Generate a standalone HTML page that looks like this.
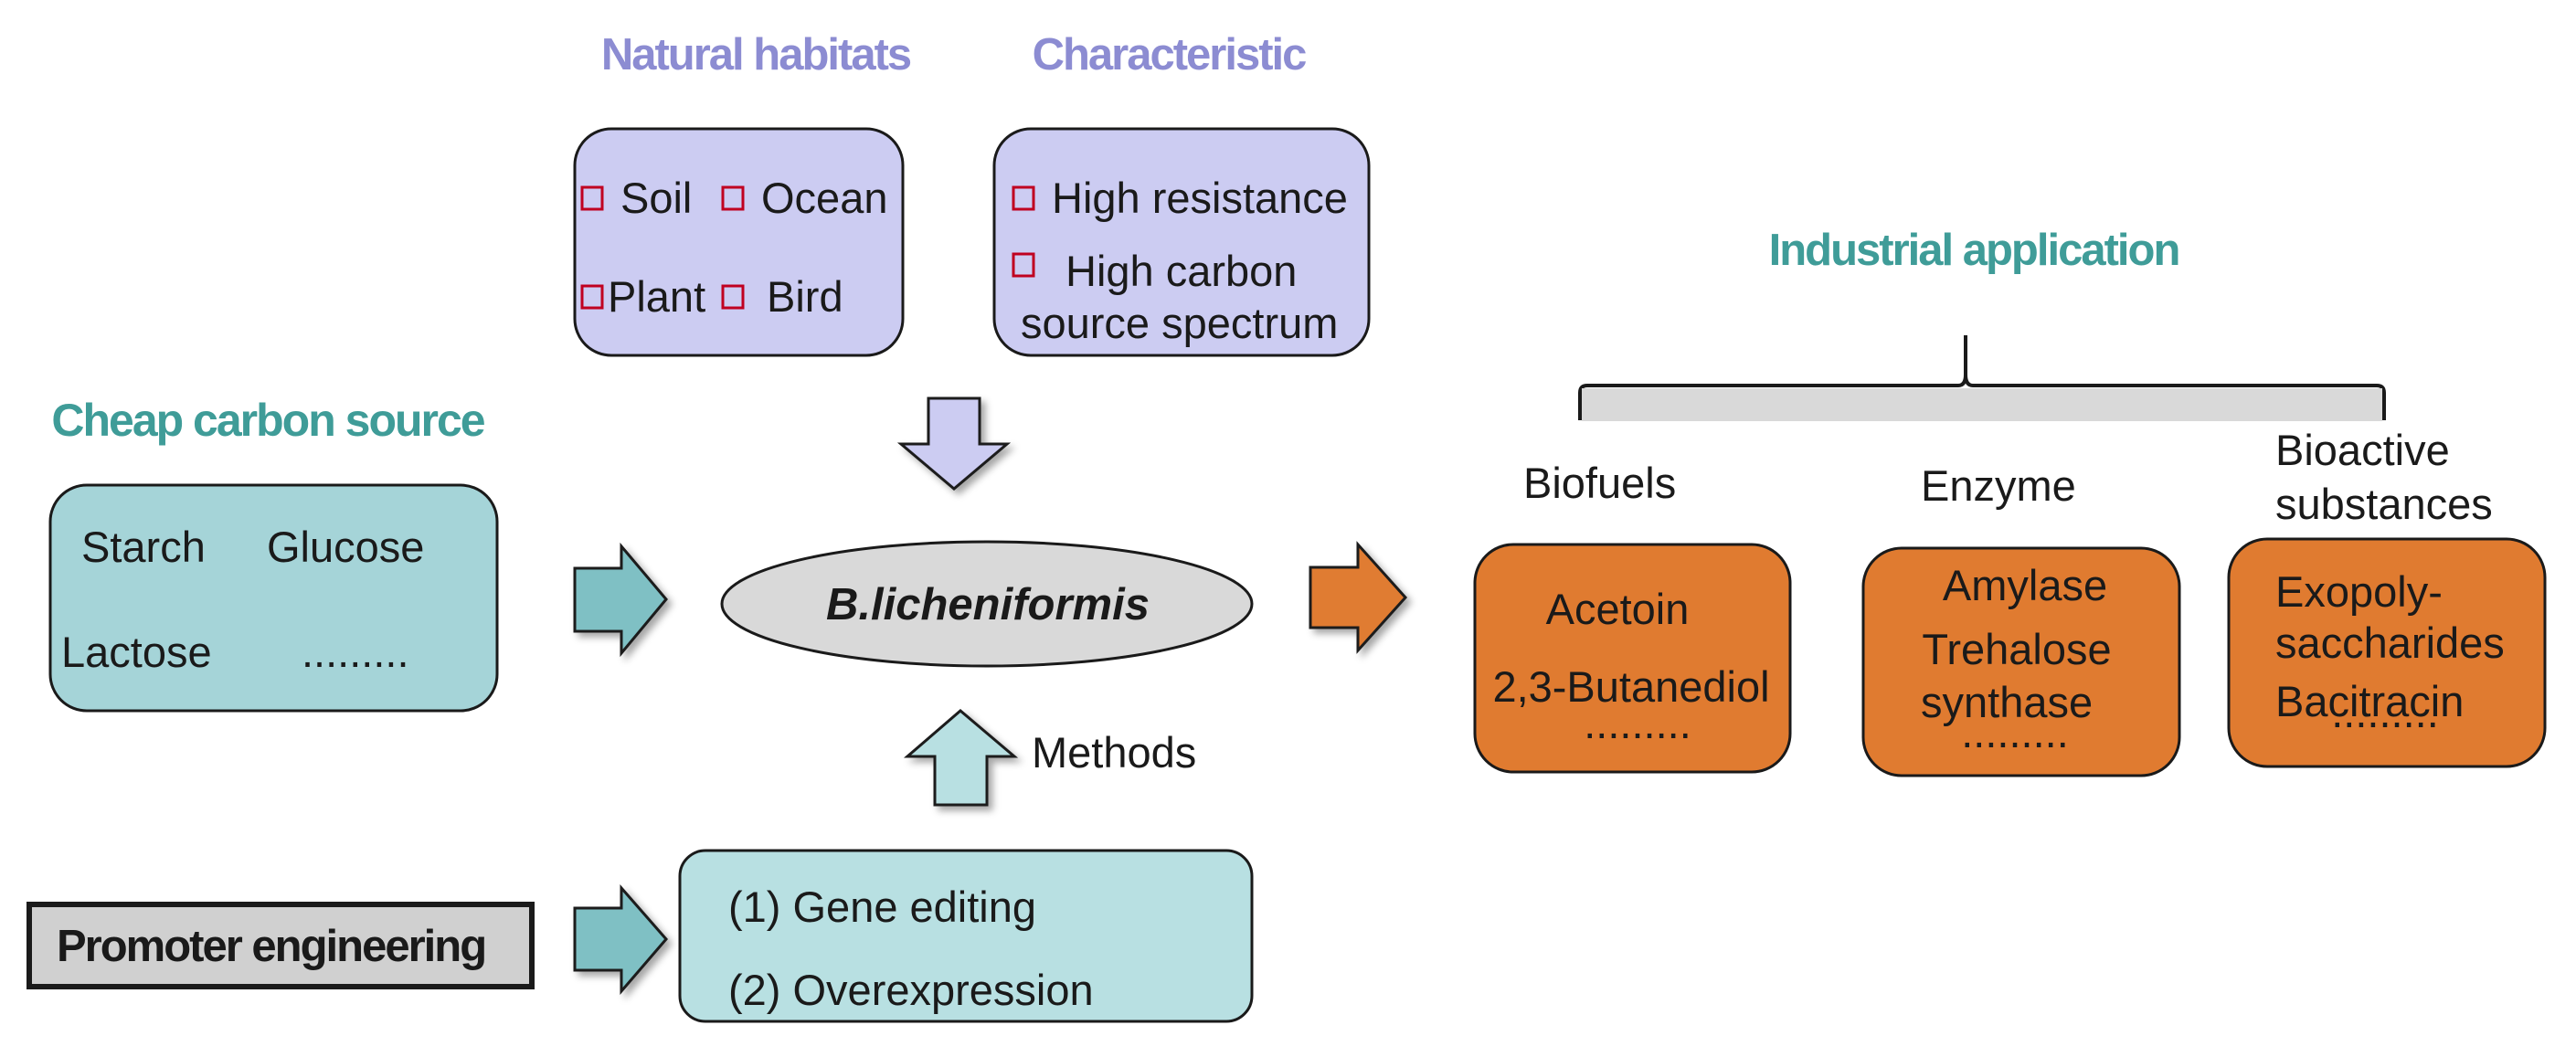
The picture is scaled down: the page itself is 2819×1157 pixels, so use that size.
<!DOCTYPE html>
<html><head><meta charset="utf-8"><style>
html,body{margin:0;padding:0;background:#fff}
svg{display:block}
text{font-family:"Liberation Sans",Arial,sans-serif;font-size:47px;fill:#1a1a1a}
.t{font-weight:bold;font-size:49px;letter-spacing:-2px}
</style></head><body>
<svg width="2819" height="1157" viewBox="0 0 2819 1157" xmlns="http://www.w3.org/2000/svg">
<defs>
<filter id="sh" x="-20%" y="-20%" width="150%" height="150%">
<feDropShadow dx="5" dy="5" stdDeviation="4" flood-color="#000" flood-opacity="0.35"/>
</filter>
</defs>
<text class="t" x="827" y="76" text-anchor="middle" style="fill:#8c8cd2">Natural habitats</text>
<text class="t" x="1279" y="76" text-anchor="middle" style="fill:#8c8cd2">Characteristic</text>
<text class="t" x="293" y="477" text-anchor="middle" style="fill:#3f9c98;font-size:50px">Cheap carbon source</text>
<text class="t" x="2160" y="290" text-anchor="middle" style="fill:#3f9c98">Industrial application</text>

<rect x="629" y="141" width="359" height="248" rx="40" fill="#ccccf2" stroke="#1a1a1a" stroke-width="3"/>
<rect x="1088" y="141" width="410" height="248" rx="40" fill="#ccccf2" stroke="#1a1a1a" stroke-width="3"/>
<g fill="none" stroke="#c00020" stroke-width="3">
<rect x="637" y="205" width="22" height="24"/>
<rect x="791" y="205" width="22" height="24"/>
<rect x="637" y="313" width="22" height="24"/>
<rect x="791" y="313" width="22" height="24"/>
<rect x="1109" y="205" width="22" height="24"/>
<rect x="1109" y="278" width="22" height="24"/>
</g>
<text x="679" y="233">Soil</text>
<text x="833" y="233">Ocean</text>
<text x="665" y="341">Plant</text>
<text x="839" y="341">Bird</text>
<text x="1151" y="233">High resistance</text>
<text x="1166" y="313">High carbon</text>
<text x="1117" y="370">source spectrum</text>

<rect x="55" y="531" width="489" height="247" rx="40" fill="#a5d4d8" stroke="#1a1a1a" stroke-width="3"/>
<text x="89" y="615">Starch</text>
<text x="292" y="615">Glucose</text>
<text x="67" y="730">Lactose</text>
<text x="330" y="730">.........</text>

<g filter="url(#sh)" stroke="#1a1a1a" stroke-width="3">
<polygon points="629,622 680,622 680,598 729,656 680,715 680,691 629,691" fill="#7fc0c4"/>
<polygon points="629,994 680,994 680,972 729,1028 680,1085 680,1062 629,1062" fill="#7fc0c4"/>
<polygon points="1434,621 1486,621 1486,596 1538,654 1486,712 1486,687 1434,687" fill="#e07b30"/>
<polygon points="1016,436 1072,436 1072,486 1102,486 1044,535 986,486 1016,486" fill="#ccccf2"/>
<polygon points="1023,881 1080,881 1080,828 1110,828 1051,778 993,828 1023,828" fill="#b8e0e2"/>
</g>
<text x="1129" y="840">Methods</text>

<ellipse cx="1080" cy="661" rx="290" ry="68" fill="#d9d9d9" stroke="#1a1a1a" stroke-width="3"/>
<text x="1081" y="678" text-anchor="middle" style="font-weight:bold;font-style:italic;font-size:49px">B.licheniformis</text>

<rect x="744" y="931" width="626" height="187" rx="28" fill="#b8e0e2" stroke="#1a1a1a" stroke-width="3"/>
<text x="797" y="1009">(1) Gene editing</text>
<text x="797" y="1100">(2) Overexpression</text>

<rect x="32" y="990" width="550" height="90" fill="#d0d0d0" stroke="#1a1a1a" stroke-width="6"/>
<text x="62" y="1052" class="t">Promoter engineering</text>

<path d="M1729,460 L1729,430 Q1729,422 1737,422 L2143,422 Q2151,422 2151,410 L2151,367 M2151,410 Q2151,422 2159,422 L2601,422 Q2609,422 2609,430 L2609,460" fill="none" stroke="#1a1a1a" stroke-width="4"/>
<rect x="1731" y="425" width="876" height="36" fill="#d9d9d9"/>

<text x="1667" y="545">Biofuels</text>
<text x="2102" y="548">Enzyme</text>
<text x="2490" y="509">Bioactive</text>
<text x="2490" y="568">substances</text>

<rect x="1614" y="596" width="345" height="249" rx="42" fill="#e07b30" stroke="#1a1a1a" stroke-width="3"/>
<rect x="2039" y="600" width="346" height="249" rx="42" fill="#e07b30" stroke="#1a1a1a" stroke-width="3"/>
<rect x="2439" y="590" width="346" height="249" rx="42" fill="#e07b30" stroke="#1a1a1a" stroke-width="3"/>
<text x="1770" y="683" text-anchor="middle">Acetoin</text>
<text x="1785" y="768" text-anchor="middle">2,3-Butanediol</text>
<text x="1792" y="808" text-anchor="middle">.........</text>
<text x="2216" y="657" text-anchor="middle">Amylase</text>
<text x="2207" y="727" text-anchor="middle">Trehalose</text>
<text x="2102" y="785">synthase</text>
<text x="2205" y="818" text-anchor="middle">.........</text>
<text x="2490" y="664">Exopoly-</text>
<text x="2490" y="720">saccharides</text>
<text x="2490" y="784">Bacitracin</text>
<text x="2610" y="796" text-anchor="middle">.........</text>
</svg>
</body></html>
